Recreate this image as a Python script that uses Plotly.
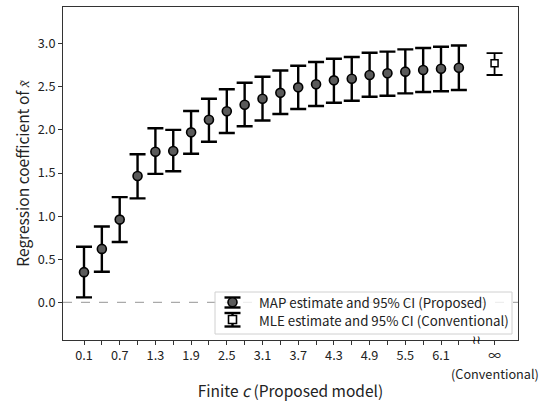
import plotly.graph_objects as go

# Data
c_vals = [0.1, 0.4, 0.7, 1.0, 1.3, 1.6, 1.9, 2.2, 2.5, 2.8, 3.1, 3.4, 3.7, 4.0, 4.3, 4.6, 4.9, 5.2, 5.5, 5.8, 6.1, 6.4]
map_est = [0.35, 0.62, 0.96, 1.465, 1.747, 1.755, 1.972, 2.118, 2.216, 2.292, 2.362, 2.43, 2.494, 2.529, 2.575, 2.594, 2.637, 2.657, 2.676, 2.696, 2.71, 2.722]
map_hi = [0.645, 0.88, 1.22, 1.717, 2.02, 2.0, 2.219, 2.362, 2.471, 2.548, 2.617, 2.69, 2.745, 2.788, 2.826, 2.846, 2.896, 2.908, 2.935, 2.95, 2.965, 2.98]
map_lo = [0.058, 0.355, 0.70, 1.206, 1.49, 1.52, 1.724, 1.863, 1.964, 2.042, 2.11, 2.184, 2.243, 2.277, 2.316, 2.339, 2.385, 2.397, 2.424, 2.44, 2.448, 2.463]

inf_pos = 7.0
mle_est = [2.773]
mle_hi = [2.89]
mle_lo = [2.637]

break_pos = 6.7

legend_labels = ["MAP estimate and 95% CI (Proposed)", "MLE estimate and 95% CI (Conventional)"]

tick_vals = c_vals + [inf_pos]
tick_text = [("%.1f" % v) if i % 2 == 0 else "" for i, v in enumerate(c_vals)] + ["∞"]
inf_sublabel = "(Conventional)"

FONT = "Noto Sans CJK JP"
W, H = 548, 406
ML, MR, MT, MB = 63, 30, 7, 66
PW, PH = W - ML - MR, H - MT - MB


def px(x):
    return (x - ML) / PW


def py(y):
    return (H - MB - y) / PH


fig = go.Figure()

fig.add_trace(go.Scatter(
    x=c_vals, y=map_est, mode="markers",
    name=legend_labels[0], showlegend=False,
    marker=dict(symbol="circle", size=9, color="#5a5a5a", line=dict(color="black", width=1.6)),
    error_y=dict(type="data", symmetric=False,
                 array=[h - m for h, m in zip(map_hi, map_est)],
                 arrayminus=[m - l for m, l in zip(map_est, map_lo)],
                 color="black", thickness=2.4, width=8),
))

fig.add_trace(go.Scatter(
    x=[inf_pos], y=mle_est, mode="markers",
    name=legend_labels[1], showlegend=False,
    marker=dict(symbol="square", size=7, color="white", line=dict(color="black", width=1.5)),
    error_y=dict(type="data", symmetric=False,
                 array=[h - m for h, m in zip(mle_hi, mle_est)],
                 arrayminus=[m - l for m, l in zip(mle_est, mle_lo)],
                 color="black", thickness=1.8, width=8),
))

# zero reference line
fig.add_shape(type="line", xref="paper", x0=0, x1=1, yref="y", y0=0, y1=0,
              line=dict(color="#aaaaaa", width=1.2, dash="dash"), layer="below")

# axis break symbol
fig.add_annotation(x=break_pos, xref="x", y=0, yref="paper", text="≀≀",
                   showarrow=False, font=dict(family="DejaVu Sans", size=12, color="black"),
                   yanchor="middle", xanchor="center")

# second line of the infinity tick label
fig.add_annotation(x=inf_pos, xref="x", y=py(373.5), yref="paper", text=inf_sublabel,
                   showarrow=False, font=dict(family=FONT, size=12.7, color="#222222"),
                   yanchor="middle", xanchor="center")

# custom legend (box, icons with error bars, labels)
shapes = []
shapes.append(dict(type="rect", xref="paper", yref="paper",
                   x0=px(215), x1=px(512), y0=py(334), y1=py(292),
                   line=dict(color="#d0d0d0", width=1), fillcolor="rgba(255,255,255,0.8)"))
icx = 232.5
# MAP icon
shapes += [
    dict(type="line", xref="paper", yref="paper", x0=px(icx), x1=px(icx), y0=py(297.5), y1=py(307.5),
         line=dict(color="black", width=2.4)),
    dict(type="line", xref="paper", yref="paper", x0=px(icx - 8), x1=px(icx + 8), y0=py(297.5), y1=py(297.5),
         line=dict(color="black", width=2.4)),
    dict(type="line", xref="paper", yref="paper", x0=px(icx - 8), x1=px(icx + 8), y0=py(307.5), y1=py(307.5),
         line=dict(color="black", width=2.4)),
    dict(type="circle", xref="paper", yref="paper", x0=px(icx - 4.5), x1=px(icx + 4.5), y0=py(306.8), y1=py(297.8),
         line=dict(color="black", width=1.6), fillcolor="#5a5a5a"),
]
# MLE icon
shapes += [
    dict(type="line", xref="paper", yref="paper", x0=px(icx), x1=px(icx), y0=py(313), y1=py(326.5),
         line=dict(color="black", width=2.4)),
    dict(type="line", xref="paper", yref="paper", x0=px(icx - 8), x1=px(icx + 8), y0=py(313), y1=py(313),
         line=dict(color="black", width=2.4)),
    dict(type="line", xref="paper", yref="paper", x0=px(icx - 8), x1=px(icx + 8), y0=py(326.5), y1=py(326.5),
         line=dict(color="black", width=2.4)),
    dict(type="rect", xref="paper", yref="paper", x0=px(icx - 4), x1=px(icx + 4), y0=py(323.5), y1=py(315.5),
         line=dict(color="black", width=1.6), fillcolor="white"),
]
for s in shapes:
    fig.add_shape(**s)

for lbl, yy in zip(legend_labels, [302.5, 320.5]):
    fig.add_annotation(x=px(257), y=py(yy), xref="paper", yref="paper", text=lbl,
                       showarrow=False, xanchor="left", yanchor="middle",
                       font=dict(family=FONT, size=13.3, color="#222222"))

fig.update_layout(
    width=W, height=H,
    margin=dict(l=ML, r=MR, t=MT, b=MB, autoexpand=False),
    paper_bgcolor="white", plot_bgcolor="white",
    font=dict(family=FONT, size=12.7, color="#222222"),
    showlegend=False,
)

fig.update_xaxes(
    range=[-0.253, 7.394], tickmode="array", tickvals=tick_vals, ticktext=tick_text,
    tickangle=0, automargin=False,
    ticks="outside", ticklen=4, tickcolor="#333333", showgrid=False, zeroline=False,
    showline=True, linecolor="#333333", linewidth=1, mirror=True,
    tickfont=dict(size=12.7),
    title=dict(text="Finite <i>c</i> (Proposed model)", font=dict(size=15.5), standoff=22),
)
fig.update_yaxes(
    range=[-0.437, 3.426], tickmode="array", tickvals=[0, 0.5, 1.0, 1.5, 2.0, 2.5, 3.0],
    ticktext=["0.0", "0.5", "1.0", "1.5", "2.0", "2.5", "3.0"],
    automargin=False,
    ticks="outside", ticklen=4, tickcolor="#333333", showgrid=False, zeroline=False,
    showline=True, linecolor="#333333", linewidth=1, mirror=True,
    tickfont=dict(size=12.7),
    title=dict(text="Regression coefficient of <i>x̃</i>", font=dict(size=15.5), standoff=4),
)

fig.write_html("out.html")
